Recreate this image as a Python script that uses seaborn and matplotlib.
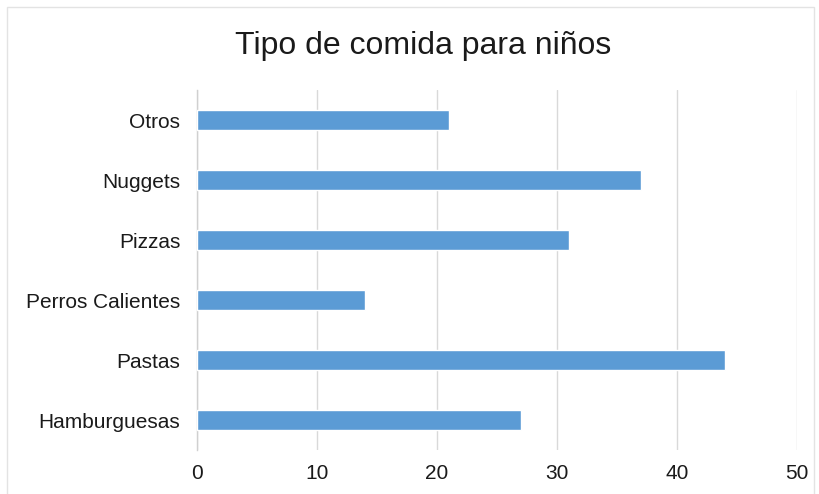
import matplotlib
matplotlib.use("Agg")
import matplotlib.pyplot as plt
import seaborn as sns
import pandas as pd
from matplotlib.patches import Rectangle

categories = ["Otros", "Nuggets", "Pizzas", "Perros Calientes", "Pastas", "Hamburguesas"]
values = [21, 37, 31, 14, 44, 27]
xticks = [0, 10, 20, 30, 40, 50]
title = "Tipo de comida para niños"

df = pd.DataFrame({"categoria": categories, "valor": values})

sns.set_theme(style="white")
plt.rcParams["font.family"] = ["Liberation Sans", "DejaVu Sans"]

fig = plt.figure(figsize=(8.2, 4.94), dpi=100)
ax = fig.add_axes([197 / 820, 44 / 494, 600 / 820, 360 / 494])

sns.barplot(data=df, x="valor", y="categoria", order=categories, orient="h",
            color="#5B9BD5", saturation=1, width=0.33, ax=ax, zorder=3)

ax.set_xlim(0, 50)
ax.set_ylim(5.5, -0.5)
ax.set_xticks(xticks)
ax.set_xticklabels([str(t) for t in xticks])
ax.set_xlabel("")
ax.set_ylabel("")
ax.grid(axis="x", color="#D9D9D9", linewidth=1.0, zorder=0)
ax.grid(axis="y", visible=False)
for side in ["top", "right", "bottom"]:
    ax.spines[side].set_visible(False)
ax.spines["left"].set_color("#D0D0D0")
ax.spines["left"].set_linewidth(1.0)
ax.tick_params(axis="both", length=0, labelsize=15, colors="#1a1a1a")
ax.tick_params(axis="x", pad=10)
ax.tick_params(axis="y", pad=12)

fig.text(423 / 820, 1 - 46 / 494, title, ha="center", va="center",
         fontsize=23, color="#1a1a1a")

# light frame around the chart area
fig.patches.append(Rectangle((7 / 820, -0.05), 807 / 820, 1 - 7 / 494 + 0.05,
                             transform=fig.transFigure, fill=False,
                             edgecolor="#E3E3E3", linewidth=1.0))

fig.savefig("out.png", dpi=100)
